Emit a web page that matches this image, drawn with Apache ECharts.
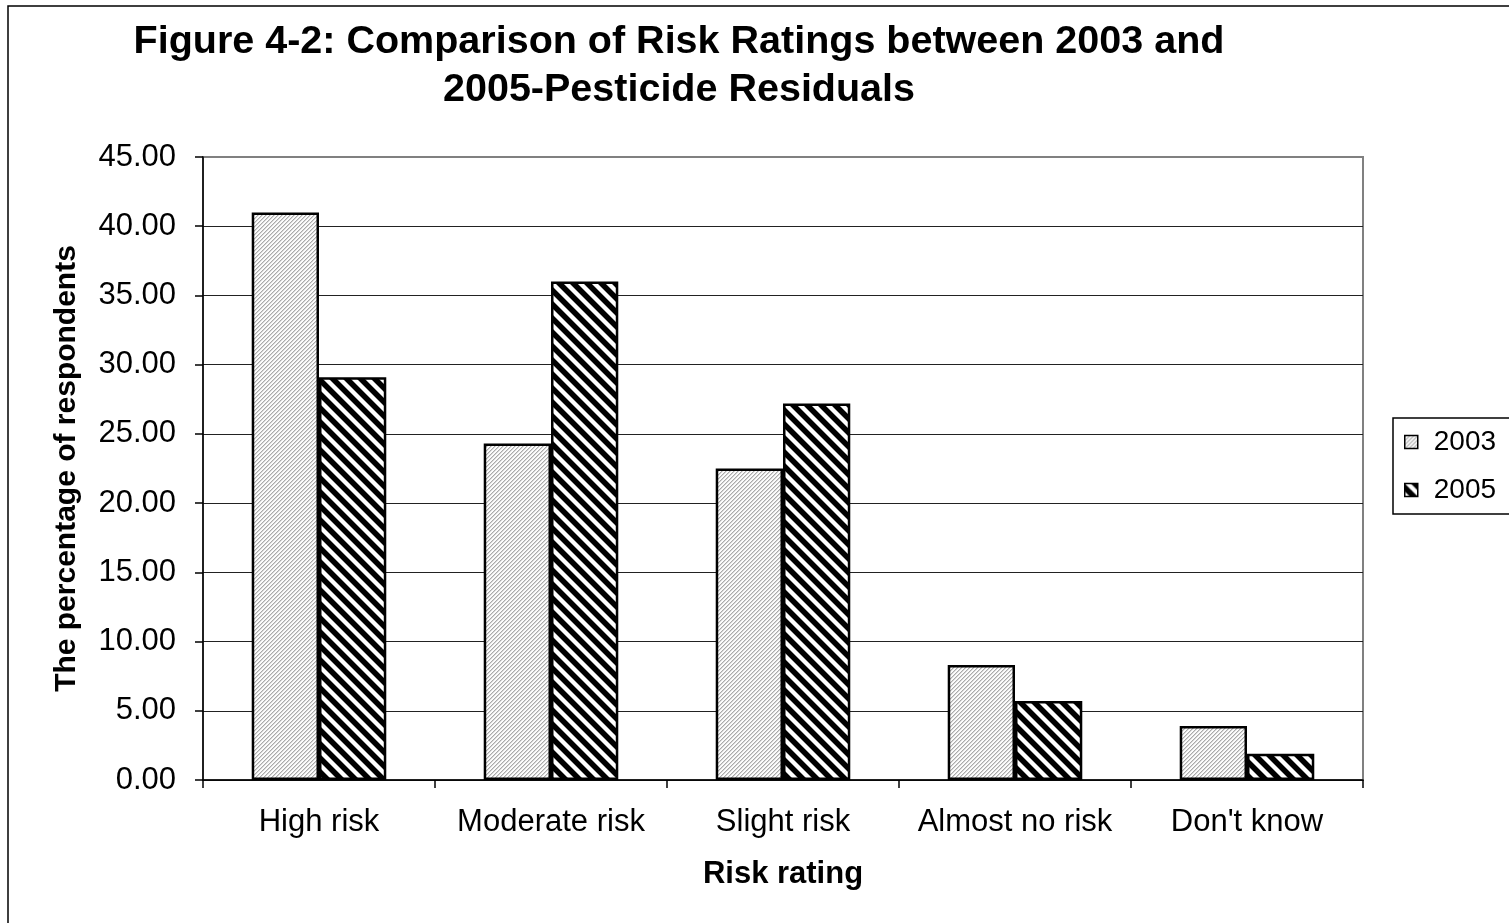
<!DOCTYPE html>
<html>
<head>
<meta charset="utf-8">
<script src="https://cdn.jsdelivr.net/npm/echarts@6/dist/echarts.min.js"></script>
<style>
html,body{margin:0;padding:0;background:#fff;}
#chart{width:1509px;height:923px;}
</style>
</head>
<body>
<div id="chart"></div>
<script>
// ---- data ----
var categories = ['High risk', 'Moderate risk', 'Slight risk', 'Almost no risk', "Don't know"];
var seriesNames = ['2003', '2005'];
var values2003 = [41.0, 24.3, 22.5, 8.3, 3.9];
var values2005 = [29.1, 36.0, 27.2, 5.7, 1.9];
var yMin = 0, yMax = 45, yStep = 5;
var titleText = 'Figure 4-2: Comparison of Risk Ratings between 2003 and\n2005-Pesticide Residuals';
var xAxisName = 'Risk rating';
var yAxisName = 'The percentage of respondents';

// ---- hatch patterns ----
function makePattern(size, fn) {
  var c = document.createElement('canvas');
  c.width = size; c.height = size;
  var ctx = c.getContext('2d');
  var img = ctx.createImageData(size, size);
  for (var y = 0; y < size; y++) {
    for (var x = 0; x < size; x++) {
      var v = fn(x, y);
      var i = (y * size + x) * 4;
      img.data[i] = v; img.data[i + 1] = v; img.data[i + 2] = v; img.data[i + 3] = 255;
    }
  }
  ctx.putImageData(img, 0, 0);
  return c;
}
// light "/" hatch
var pat2003 = makePattern(8, function (x, y) {
  var m = (x + y) % 4;
  return m === 0 ? 170 : (m === 1 ? 215 : 252);
});
// black with white "\" stripes
var pat2005 = makePattern(14, function (x, y) {
  var m = ((x - y) % 14 + 14) % 14;
  if (m === 0 || m === 6) return 140;
  if (m >= 1 && m <= 5) return 255;
  return 0;
});

var chart = echarts.init(document.getElementById('chart'), null, {renderer: 'canvas'});
var font = 'Liberation Sans, Arial, sans-serif';

var option = {
  backgroundColor: '#fff',
  animation: false,
  title: {
    text: titleText,
    left: 674,
    top: 13,
    textAlign: 'center',
    textStyle: {
      fontFamily: font, fontWeight: 'bold', fontSize: 39.5, lineHeight: 48, color: '#000'
    }
  },
  graphic: [{
    type: 'rect', z: -1, silent: true,
    shape: {x: 8, y: 6, width: 1600, height: 1000},
    style: {fill: 'none', stroke: '#000', lineWidth: 1.5}
  }],
  legend: {
    orient: 'vertical',
    left: 1393, top: 418,
    padding: [10, 30, 10, 11],
    itemGap: 20,
    itemWidth: 13, itemHeight: 13,
    borderColor: '#000', borderWidth: 1.5,
    icon: 'rect',
    itemStyle: {borderColor: '#000', borderWidth: 1.5},
    textStyle: {fontFamily: font, fontSize: 28, color: '#000', lineHeight: 28, padding: [0, 0, 0, 11]},
    data: seriesNames
  },
  grid: {
    left: 203, right: 146, top: 157, bottom: 143,
    show: true, borderColor: '#808080', borderWidth: 2, backgroundColor: '#fff',
    containLabel: false
  },
  xAxis: {
    type: 'category',
    data: categories,
    name: xAxisName,
    nameLocation: 'middle',
    nameGap: 79,
    nameTextStyle: {fontFamily: font, fontWeight: 'bold', fontSize: 31, color: '#000'},
    axisLine: {lineStyle: {color: '#000', width: 1.5}},
    axisTick: {show: true, interval: 0, length: 8, lineStyle: {color: '#000', width: 1.5}},
    axisLabel: {interval: 0, fontFamily: font, fontSize: 31, color: '#000', margin: 27},
    splitLine: {show: false}
  },
  yAxis: {
    type: 'value',
    min: yMin, max: yMax, interval: yStep,
    name: yAxisName,
    nameLocation: 'middle',
    nameGap: 121,
    nameRotate: 90,
    nameTextStyle: {fontFamily: font, fontWeight: 'bold', fontSize: 30, color: '#000'},
    axisLine: {show: true, lineStyle: {color: '#000', width: 1.5}},
    axisTick: {show: true, length: 8, lineStyle: {color: '#000', width: 1.5}},
    axisLabel: {
      fontFamily: font, fontSize: 31, color: '#000', margin: 27,
      formatter: function (v) { return v.toFixed(2); }
    },
    splitLine: {show: true, showMaxLine: false, lineStyle: {color: '#222', width: 1}}
  },
  series: [{
    name: seriesNames[0],
    type: 'bar',
    data: values2003,
    barGap: '0%',
    barCategoryGap: '42%',
    itemStyle: {color: {image: pat2003, repeat: 'repeat'}, borderColor: '#000', borderWidth: 2.5}
  }, {
    name: seriesNames[1],
    type: 'bar',
    data: values2005,
    barGap: '0%',
    barCategoryGap: '42%',
    itemStyle: {color: {image: pat2005, repeat: 'repeat'}, borderColor: '#000', borderWidth: 2.5}
  }]
};
chart.setOption(option);
</script>
</body>
</html>
